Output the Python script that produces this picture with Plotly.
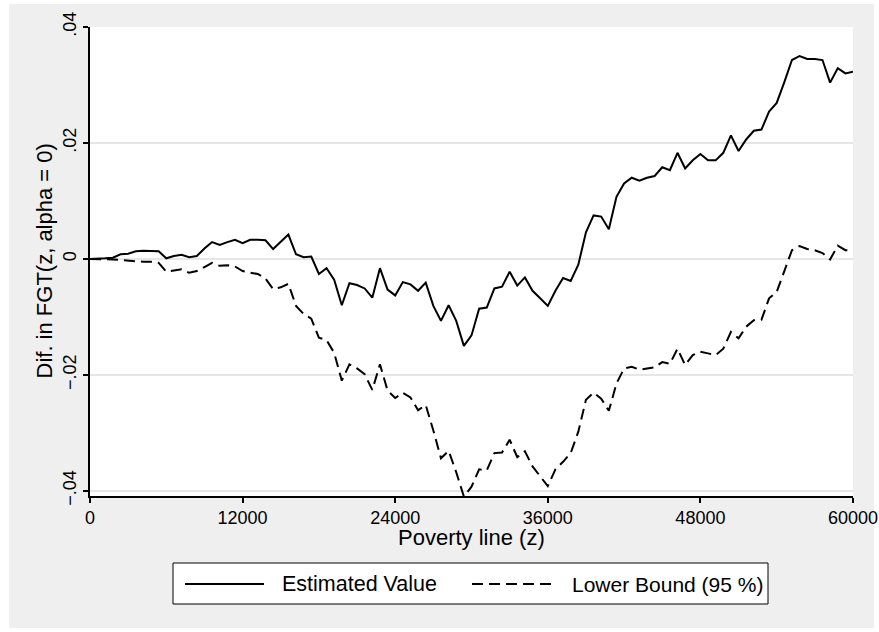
import plotly.graph_objects as go

# Poverty line grid (z), step of 600
poverty_line = list(range(0, 60001, 600))

# Difference in FGT(z, alpha = 0): point estimate
estimated_value = [
    0.0000, 0.0000, 0.0001, 0.0002, 0.0008, 0.0009, 0.0013, 0.0014, 0.0013, 0.0013,
    0.0001, 0.0005, 0.0007, 0.0003, 0.0005, 0.0018, 0.0029, 0.0024, 0.0029, 0.0033,
    0.0027, 0.0033, 0.0033, 0.0032, 0.0017, 0.0029, 0.0042, 0.0008, 0.0003, 0.0004,
    -0.0026, -0.0016, -0.0036, -0.0080, -0.0042, -0.0045, -0.0051, -0.0067, -0.0016, -0.0053,
    -0.0063, -0.0040, -0.0044, -0.0055, -0.0041, -0.0081, -0.0107, -0.0080, -0.0107, -0.0150,
    -0.0132, -0.0086, -0.0084, -0.0051, -0.0048, -0.0022, -0.0046, -0.0032, -0.0055, -0.0068,
    -0.0081, -0.0055, -0.0033, -0.0038, -0.0010, 0.0046, 0.0075, 0.0073, 0.0051, 0.0107,
    0.0130, 0.0140, 0.0135, 0.0140, 0.0143, 0.0158, 0.0153, 0.0183, 0.0156, 0.0170,
    0.0181, 0.0170, 0.0170, 0.0183, 0.0213, 0.0186, 0.0206, 0.0221, 0.0223, 0.0254,
    0.0269, 0.0305, 0.0343, 0.0350, 0.0345, 0.0345, 0.0343, 0.0304, 0.0329, 0.0320,
    0.0323,
]

# Lower bound of the 95 % confidence interval
lower_bound = [
    0.0000, 0.0000, 0.0000, -0.0001, -0.0002, -0.0003, -0.0005, -0.0005, -0.0005, -0.0007,
    -0.0022, -0.0020, -0.0018, -0.0024, -0.0021, -0.0014, -0.0007, -0.0012, -0.0011, -0.0013,
    -0.0021, -0.0024, -0.0026, -0.0034, -0.0052, -0.0049, -0.0043, -0.0081, -0.0095, -0.0103,
    -0.0136, -0.0140, -0.0162, -0.0210, -0.0182, -0.0189, -0.0199, -0.0226, -0.0182, -0.0227,
    -0.0240, -0.0231, -0.0239, -0.0261, -0.0252, -0.0296, -0.0344, -0.0331, -0.0368, -0.0410,
    -0.0393, -0.0363, -0.0365, -0.0335, -0.0334, -0.0312, -0.0342, -0.0332, -0.0358, -0.0375,
    -0.0392, -0.0363, -0.0350, -0.0335, -0.0298, -0.0243, -0.0231, -0.0241, -0.0262, -0.0215,
    -0.0189, -0.0186, -0.0191, -0.0189, -0.0187, -0.0178, -0.0181, -0.0155, -0.0183, -0.0166,
    -0.0160, -0.0163, -0.0166, -0.0155, -0.0126, -0.0137, -0.0117, -0.0106, -0.0105, -0.0068,
    -0.0057, -0.0021, 0.0015, 0.0022, 0.0017, 0.0015, 0.0010, -0.0001, 0.0023, 0.0015,
    0.0014,
]

x_ticks = [0, 12000, 24000, 36000, 48000, 60000]
x_tick_labels = ["0", "12000", "24000", "36000", "48000", "60000"]
y_ticks = [-0.04, -0.02, 0, 0.02, 0.04]
y_tick_labels = ["\u2212.04", "\u2212.02", "0", ".02", ".04"]

series_names = ["Estimated Value", "Lower Bound (95 %)"]

FONT = "Liberation Sans, Arial, Helvetica, sans-serif"
W, H = 879, 632
ML, MR, MT, MB = 90, 26, 27, 136
PW, PH = W - ML - MR, H - MT - MB


def px_x(p):
    return (p - ML) / PW


def px_y(p):
    return (H - MB - p) / PH


fig = go.Figure()
fig.add_trace(go.Scatter(
    x=poverty_line, y=estimated_value, mode="lines", name=series_names[0],
    line=dict(color="black", width=2), showlegend=False,
))
fig.add_trace(go.Scatter(
    x=poverty_line, y=lower_bound, mode="lines", name=series_names[1],
    line=dict(color="black", width=2, dash="11px,6px"), showlegend=False,
))

shapes = []
# white page border around the grey graph region
shapes.append(dict(type="rect", xref="paper", yref="paper", layer="below",
                   x0=px_x(0), x1=px_x(9), y0=px_y(H), y1=px_y(0),
                   fillcolor="white", line=dict(width=0)))
shapes.append(dict(type="rect", xref="paper", yref="paper", layer="below",
                   x0=px_x(874), x1=px_x(W), y0=px_y(H), y1=px_y(0),
                   fillcolor="white", line=dict(width=0)))
shapes.append(dict(type="rect", xref="paper", yref="paper", layer="below",
                   x0=px_x(0), x1=px_x(W), y0=px_y(4), y1=px_y(0),
                   fillcolor="white", line=dict(width=0)))
shapes.append(dict(type="rect", xref="paper", yref="paper", layer="below",
                   x0=px_x(0), x1=px_x(W), y0=px_y(H), y1=px_y(628),
                   fillcolor="white", line=dict(width=0)))

# legend box with line samples
leg_y = px_y(584)
shapes.append(dict(type="rect", xref="paper", yref="paper",
                   x0=px_x(173), x1=px_x(768), y0=px_y(604), y1=px_y(563),
                   fillcolor="white", line=dict(color="black", width=1)))
shapes.append(dict(type="line", xref="paper", yref="paper",
                   x0=px_x(185), x1=px_x(264), y0=leg_y, y1=leg_y,
                   line=dict(color="black", width=2)))
shapes.append(dict(type="line", xref="paper", yref="paper",
                   x0=px_x(472), x1=px_x(555), y0=leg_y, y1=leg_y,
                   line=dict(color="black", width=2, dash="11px,6px")))

annotations = [
    dict(text=series_names[0], xref="paper", yref="paper", x=px_x(280), y=leg_y,
         xanchor="left", yanchor="middle", showarrow=False,
         font=dict(family=FONT, size=21.5, color="black")),
    dict(text=series_names[1], xref="paper", yref="paper", x=px_x(570), y=leg_y,
         xanchor="left", yanchor="middle", showarrow=False,
         font=dict(family=FONT, size=21, color="black")),
    dict(text="Poverty line (z)", xref="paper", yref="paper", x=0.5, y=px_y(537),
         xanchor="center", yanchor="middle", showarrow=False,
         font=dict(family=FONT, size=22, color="black")),
    dict(text="Dif. in FGT(z, alpha = 0)", xref="paper", yref="paper",
         x=px_x(44), y=0.5, textangle=-90,
         xanchor="center", yanchor="middle", showarrow=False,
         font=dict(family=FONT, size=22, color="black")),
]

fig.update_layout(
    width=W, height=H,
    margin=dict(l=ML, r=MR, t=MT, b=MB, pad=0, autoexpand=False),
    paper_bgcolor="#efefef",
    plot_bgcolor="white",
    font=dict(family=FONT, color="black"),
    shapes=shapes,
    annotations=annotations,
    showlegend=False,
)
fig.update_xaxes(
    range=[0, 60000], tickvals=x_ticks, ticktext=x_tick_labels,
    automargin=False,
    showgrid=False, zeroline=False,
    showline=True, linecolor="black", linewidth=1.5,
    ticks="outside", ticklen=5, tickwidth=1.5, tickcolor="black",
    tickfont=dict(family=FONT, size=18, color="black"),
)
fig.update_yaxes(
    range=[-0.0409, 0.04], tickvals=y_ticks, ticktext=y_tick_labels,
    tickangle=-90, automargin=False,
    showgrid=True, gridcolor="#e6e6e6", gridwidth=1.5, zeroline=False,
    showline=True, linecolor="black", linewidth=1.5,
    ticks="outside", ticklen=5, tickwidth=1.5, tickcolor="black",
    tickfont=dict(family=FONT, size=18, color="black"),
)

fig.write_html("out.html")
